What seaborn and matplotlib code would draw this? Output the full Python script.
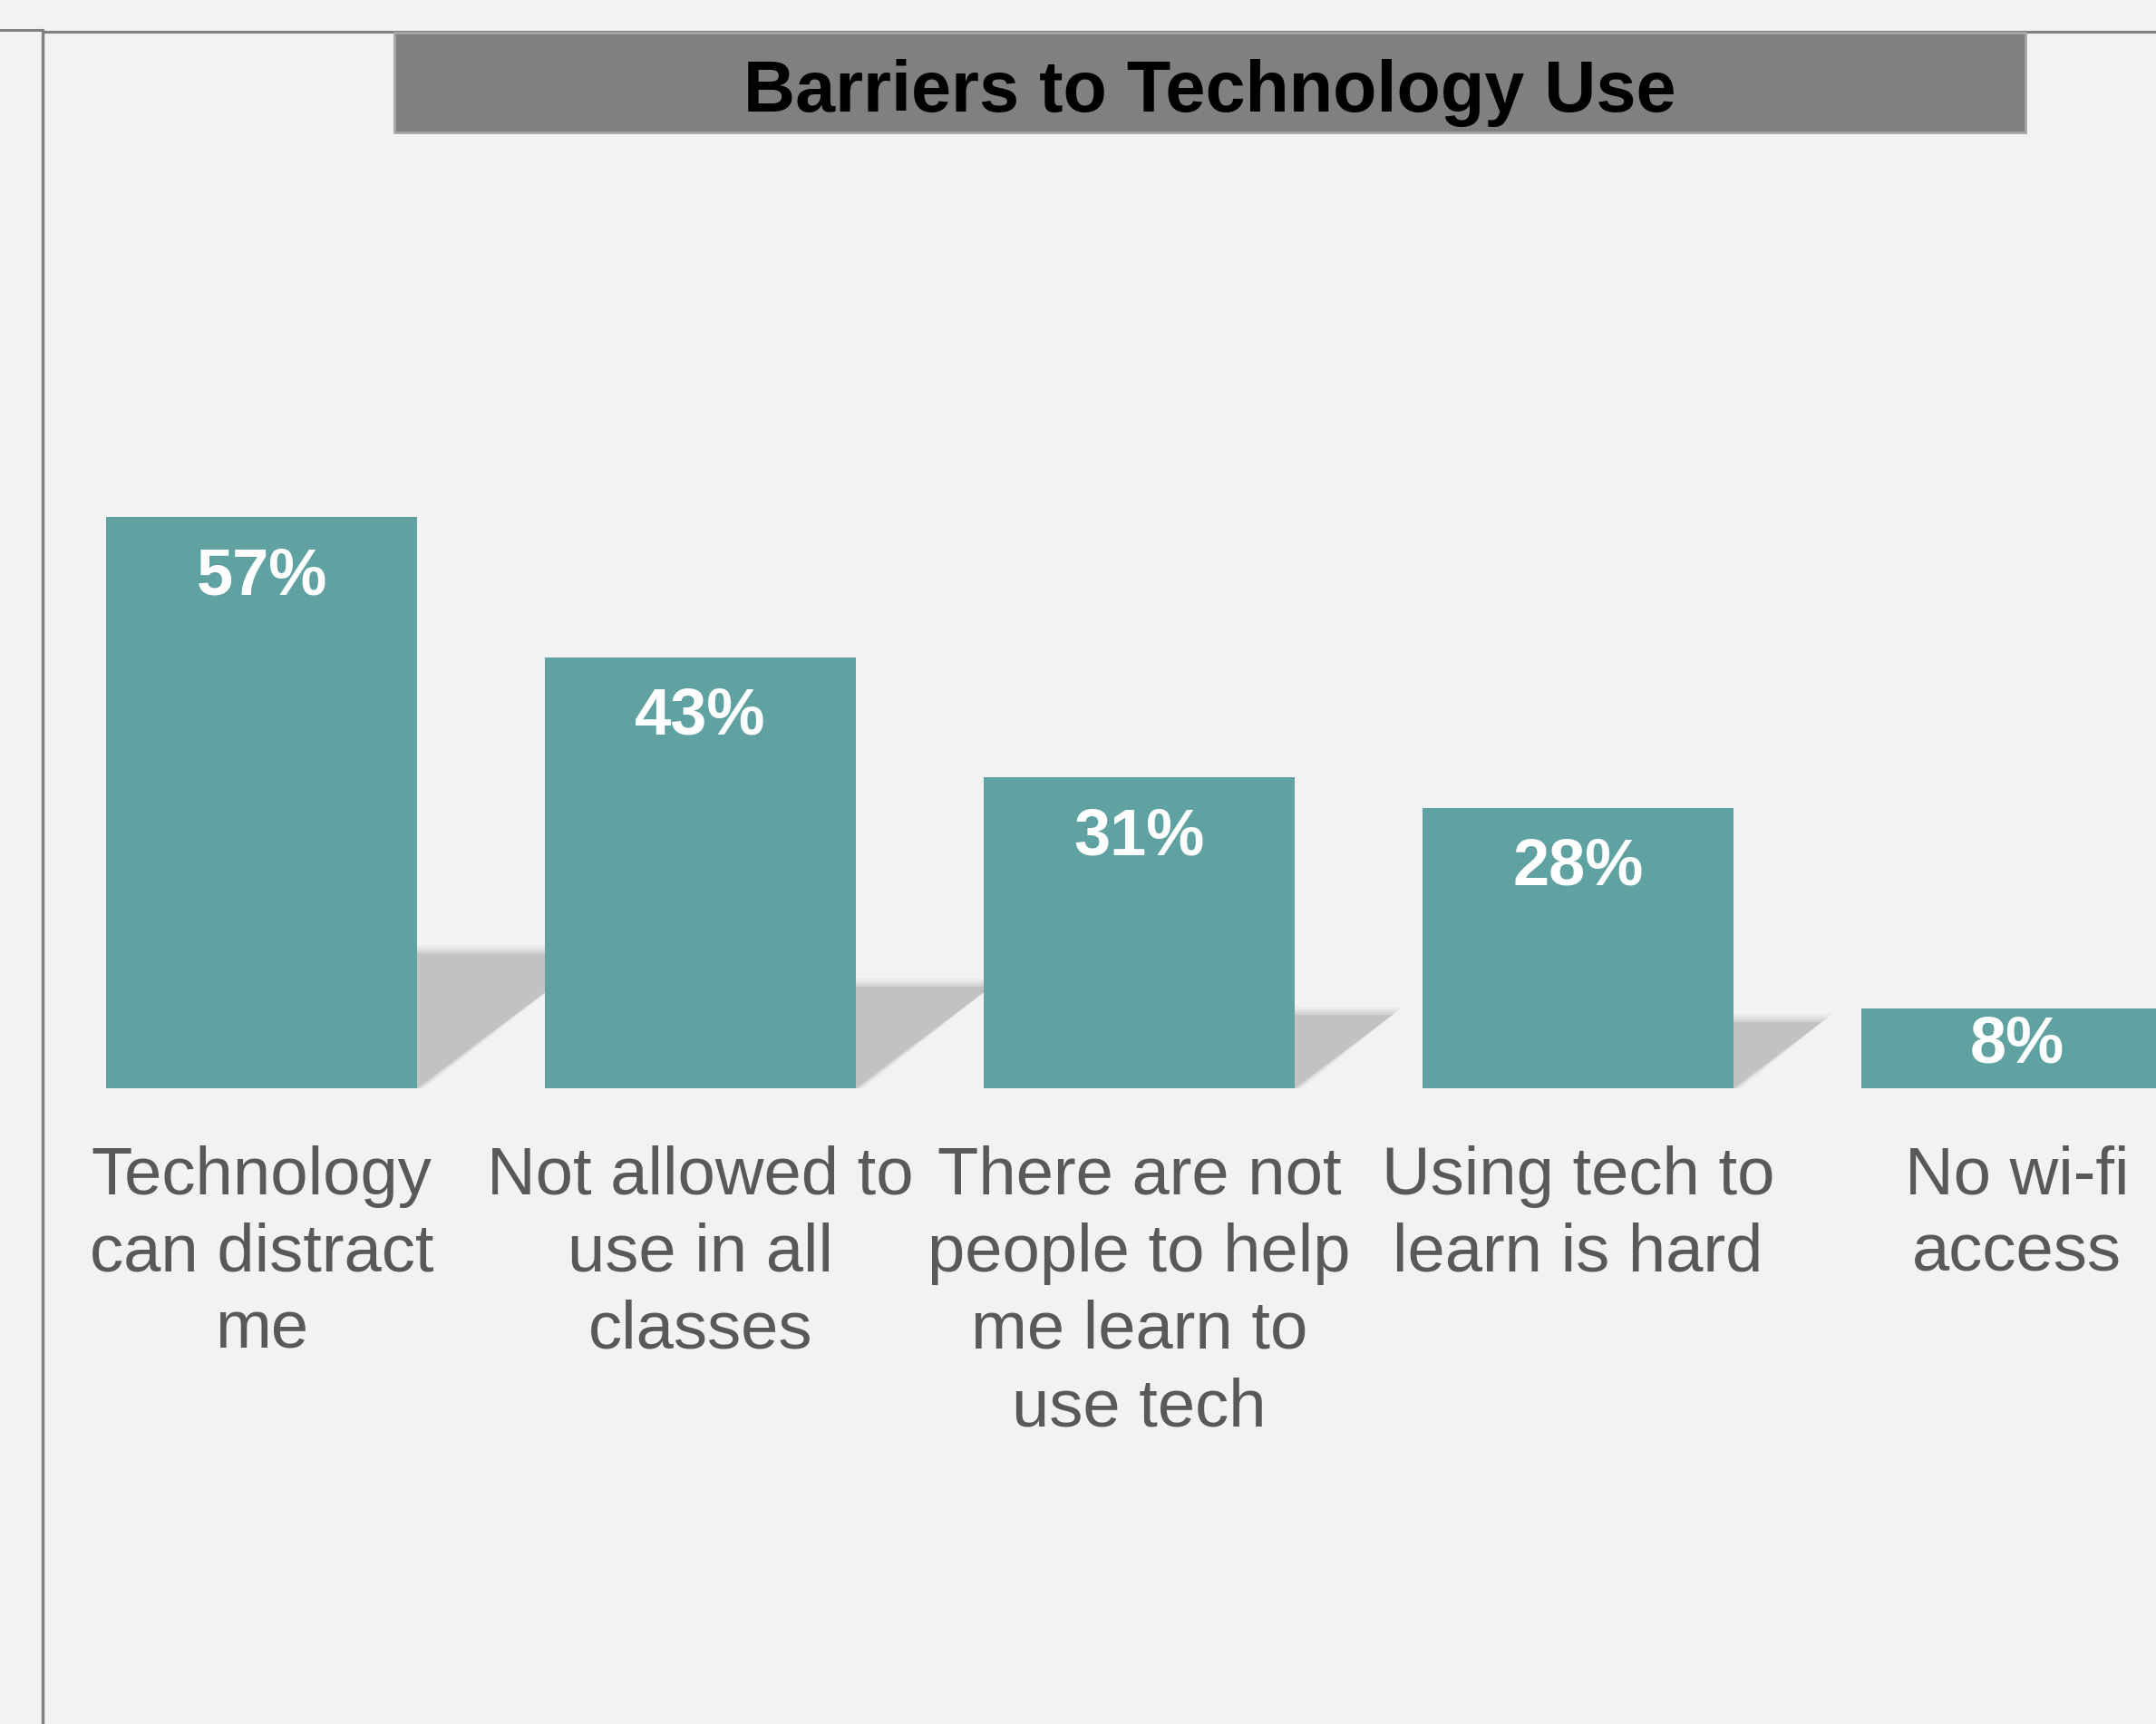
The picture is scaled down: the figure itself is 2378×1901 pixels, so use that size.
import matplotlib
matplotlib.use("Agg")
import matplotlib.pyplot as plt
import seaborn as sns
import numpy as np
from matplotlib.patches import Rectangle, Polygon
from matplotlib.lines import Line2D

categories = ["Technology\ncan distract\nme",
              "Not allowed to\nuse in all\nclasses",
              "There are not\npeople to help\nme learn to\nuse tech",
              "Using tech to\nlearn is hard",
              "No wi-fi\naccess"]
values = [57, 43, 31, 28, 8]
value_labels = ["57%", "43%", "31%", "28%", "8%"]
title = "Barriers to Technology Use"

BG = "#f2f2f2"
BAR = "#60a2a2"
W, H = 2378, 1901
DPI = 100

sns.set_theme(style="white")
plt.rcParams['font.family'] = ['Liberation Sans', 'DejaVu Sans']

fig = plt.figure(figsize=(W / DPI, H / DPI), dpi=DPI)
fig.patch.set_facecolor(BG)

base_px = 1200.0
ax = fig.add_axes([0, (H - base_px) / H, 1, base_px / H])
ax.set_facecolor(BG)

pitch_px = 484.0
c0_px = 288.5
px_per_unit = 11.05
xlim = (-c0_px / pitch_px, (W - c0_px) / pitch_px)
ylim = (0, base_px / px_per_unit)

bw = 0.709
sns.barplot(x=list(range(len(values))), y=values, color=BAR, saturation=1,
            width=bw, ax=ax, zorder=3, linewidth=0)

# perspective shadows (soft edges via layered translucent polygons)
for i, v in enumerate(values):
    hs = 0.236 * v
    dx = 1.33 * hs * px_per_unit / pitch_px
    xr = i + bw / 2
    xl = i - bw / 2
    for grow, alpha in [(0.8, 0.15), (0.5, 0.25), (0.25, 0.4), (0.0, 1.0)]:
        poly = Polygon([(xl, 0), (xr + grow * 0.02, 0),
                        (xr + dx + grow * 0.03, hs + grow),
                        (xl + dx, hs + grow)], closed=True,
                       facecolor="#c2c2c2", edgecolor="none", alpha=alpha, zorder=1)
        ax.add_patch(poly)

for i, (v, lab) in enumerate(zip(values, value_labels)):
    off = min(7.7, 0.68 * v)
    ax.text(i, v - off, lab, ha="center", va="baseline", color="white",
            fontsize=52, fontweight="bold", zorder=5)

ax.set_xlim(*xlim)
ax.set_ylim(*ylim)
ax.set_xticks(range(len(categories)))
ax.set_xticklabels(categories, fontsize=53.5, color="#595959", linespacing=1.3)
ax.tick_params(axis="x", length=0, pad=45)
ax.set_yticks([])
ax.set_xlabel("")
ax.set_ylabel("")
for s in ax.spines.values():
    s.set_visible(False)

# frame lines
lc = "#808080"
fig.add_artist(Line2D([0, 47 / W], [1 - 33 / H, 1 - 33 / H], color=lc, lw=2.2, transform=fig.transFigure))
fig.add_artist(Line2D([47 / W, 1], [1 - 35 / H, 1 - 35 / H], color=lc, lw=2.2, transform=fig.transFigure))
fig.add_artist(Line2D([47 / W, 47 / W], [1 - 33 / H, 0], color=lc, lw=2.4, transform=fig.transFigure))

# title box
bx0, bx1 = 435 / W, 2234 / W
by0, by1 = 1 - 146 / H, 1 - 36 / H
fig.add_artist(Rectangle((bx0, by0), bx1 - bx0, by1 - by0, transform=fig.transFigure,
                         facecolor="#808080", edgecolor="#a6a6a6", lw=2, zorder=10))
fig.text((bx0 + bx1) / 2, 1 - 103 / H, title, ha="center", va="center",
         fontsize=57, fontweight="bold", color="black", zorder=11)

fig.savefig("out.png", dpi=DPI, facecolor=BG)
